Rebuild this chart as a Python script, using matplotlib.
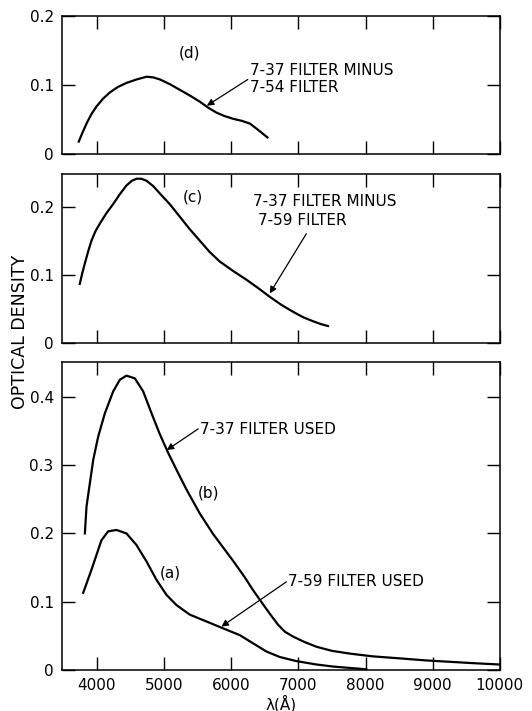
import matplotlib.pyplot as plt

# panel (d): 7-37 minus 7-54
wl_d = [3730, 3790, 3850, 3920, 3995, 4090, 4190, 4310, 4440, 4590, 4740, 4840, 4940, 5090, 5235,
        5380, 5530, 5660, 5780, 5900, 6030, 6160, 6280, 6400, 6540]
od_d = [0.018, 0.032, 0.045, 0.058, 0.069, 0.080, 0.089, 0.097, 0.103, 0.108, 0.112, 0.111, 0.108,
        0.101, 0.093, 0.085, 0.076, 0.067, 0.060, 0.055, 0.051, 0.048, 0.044, 0.035, 0.024]

# panel (c): 7-37 minus 7-59
wl_c = [3745, 3780, 3820, 3870, 3920, 3980, 4045, 4140, 4245, 4340, 4440, 4520, 4590, 4660, 4740,
        4840, 4940, 5090, 5235, 5380, 5530, 5680, 5830, 6030, 6230, 6400, 6575, 6750, 6920, 7070,
        7220, 7330, 7440]
od_c = [0.087, 0.102, 0.117, 0.135, 0.151, 0.165, 0.176, 0.191, 0.205, 0.219, 0.232, 0.239, 0.242,
        0.242, 0.239, 0.231, 0.220, 0.204, 0.186, 0.168, 0.151, 0.134, 0.120, 0.106, 0.093, 0.081,
        0.068, 0.056, 0.046, 0.038, 0.032, 0.028, 0.025]

# panel (b): 7-37 filter used
wl_b = [3821, 3845, 3896, 3946, 4020, 4119, 4243, 4342, 4440, 4565, 4689, 4813, 4938, 5061, 5186,
        5335, 5533, 5731, 6027, 6200, 6325, 6475, 6600, 6700, 6800, 6920, 7090, 7270, 7500, 7765,
        8100, 8510, 8900, 9250, 9600, 10000]
od_b = [0.200, 0.239, 0.274, 0.308, 0.342, 0.376, 0.408, 0.425, 0.431, 0.427, 0.408, 0.376, 0.345,
        0.318, 0.293, 0.264, 0.229, 0.199, 0.160, 0.136, 0.117, 0.096, 0.079, 0.066, 0.056, 0.049,
        0.041, 0.034, 0.028, 0.024, 0.020, 0.017, 0.014, 0.012, 0.010, 0.008]

# panel (a): 7-59 filter used
wl_a = [3796, 3920, 4068, 4168, 4292, 4440, 4589, 4738, 4887, 5036, 5185, 5384, 5632, 5878, 6128,
        6326, 6525, 6723, 6970, 7270, 7520, 7765, 8010]
od_a = [0.113, 0.147, 0.190, 0.203, 0.205, 0.200, 0.183, 0.159, 0.132, 0.110, 0.095, 0.081, 0.071,
        0.061, 0.051, 0.039, 0.027, 0.019, 0.013, 0.008, 0.005, 0.003, 0.001]

xticks = [4000, 5000, 6000, 7000, 8000, 9000, 10000]
xticklabels = ['4000', '5000', '6000', '7000', '8000', '9000', '10000']

plt.rcParams['font.family'] = 'DejaVu Sans'
plt.rcParams['font.size'] = 11

fig = plt.figure(figsize=(5.32, 7.11), dpi=100)
L, W = 0.1165, 0.823
ax_d = fig.add_axes([L, 0.7834, W, 0.1941])
ax_c = fig.add_axes([L, 0.5176, W, 0.2377])
ax_ab = fig.add_axes([L, 0.0577, W, 0.4332])

arrow = dict(arrowstyle='-|>', color='black', lw=0.9, mutation_scale=10, shrinkA=0, shrinkB=0)


def style(ax, ymax, yticks, ylabels, bottom_labels):
    ax.set_xlim(3480, 10000)
    ax.set_ylim(0, ymax)
    ax.set_xticks(xticks)
    ax.set_yticks(yticks)
    ax.set_yticklabels(ylabels)
    ax.tick_params(direction='in', length=9.5, width=1, top=True, right=True, pad=6)
    if bottom_labels:
        ax.set_xticklabels(xticklabels)
    else:
        ax.set_xticklabels([])
    for s in ax.spines.values():
        s.set_linewidth(1.1)


ax_d.plot(wl_d, od_d, color='black', lw=1.6)
style(ax_d, 0.2, [0, 0.1, 0.2], ['0', '0.1', '0.2'], False)
ax_d.text(5384, 0.147, '(d)', ha='center', va='center')
ax_d.text(6277, 0.121, '7-37 FILTER MINUS', ha='left', va='center')
ax_d.text(6277, 0.097, '7-54 FILTER', ha='left', va='center')
ax_d.annotate('', xy=(5637, 0.070), xytext=(6247, 0.108), arrowprops=arrow)

ax_c.plot(wl_c, od_c, color='black', lw=1.6)
style(ax_c, 0.249, [0, 0.1, 0.2], ['0', '0.1', '0.2'], False)
ax_c.text(5433, 0.215, '(c)', ha='center', va='center')
ax_c.text(6321, 0.208, '7-37 FILTER MINUS', ha='left', va='center')
ax_c.text(6400, 0.181, '7-59 FILTER', ha='left', va='center')
ax_c.annotate('', xy=(6574, 0.073), xytext=(7119, 0.161), arrowprops=arrow)

ax_ab.plot(wl_b, od_b, color='black', lw=1.6)
ax_ab.plot(wl_a, od_a, color='black', lw=1.6)
style(ax_ab, 0.451, [0, 0.1, 0.2, 0.3, 0.4], ['0', '0.1', '0.2', '0.3', '0.4'], True)
ax_ab.text(5656, 0.259, '(b)', ha='center', va='center')
ax_ab.text(5086, 0.142, '(a)', ha='center', va='center')
ax_ab.text(5540, 0.352, '7-37 FILTER USED', ha='left', va='center')
ax_ab.annotate('', xy=(5040, 0.322), xytext=(5508, 0.353), arrowprops=arrow)
ax_ab.text(6850, 0.129, '7-59 FILTER USED', ha='left', va='center')
ax_ab.annotate('', xy=(5854, 0.0635), xytext=(6821, 0.129), arrowprops=arrow)
ax_ab.set_xlabel('λ(Å)', labelpad=1)

fig.text(0.0376, 0.533, 'OPTICAL DENSITY', rotation=90, ha='center', va='center', fontsize=12.5)

fig.savefig('out.png', dpi=100)
